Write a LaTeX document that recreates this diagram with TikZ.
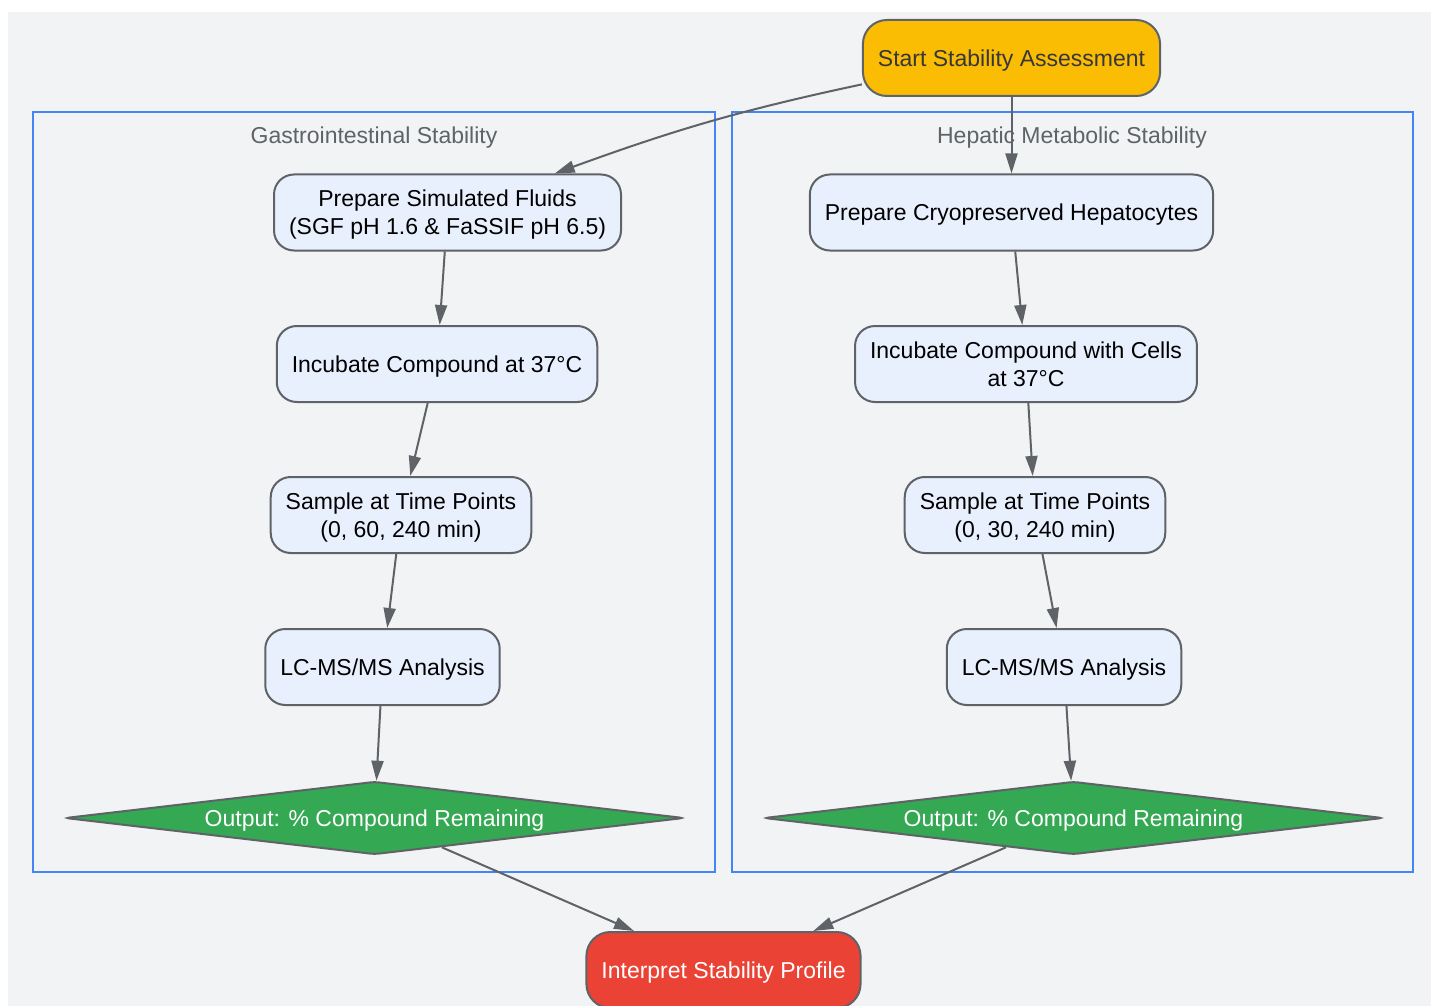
\documentclass[tikz,border=0pt]{standalone}
\usepackage{fontspec}
\setmainfont{Liberation Sans}
\usetikzlibrary{arrows.meta,positioning,shapes.geometric,calc}
\definecolor{canvas}{HTML}{F1F3F4}
\definecolor{ink}{HTML}{202124}
\definecolor{inkgray}{HTML}{5F6368}
\definecolor{boxfill}{HTML}{E8F0FE}
\definecolor{gblue}{HTML}{4285F4}
\definecolor{gyellow}{HTML}{FBBC04}
\definecolor{ggreen}{HTML}{34A853}
\definecolor{gred}{HTML}{EA4335}
\newcommand{\stepfont}{\fontsize{11.5}{14}\selectfont}
\tikzset{
  flowtext/.style={font=\stepfont,text height=11pt,text depth=2.6pt},
  twoline/.style={text height=25pt},
  stepbox/.style={draw=inkgray,fill=boxfill,line width=1pt,rounded corners=10pt,
                  minimum height=38pt,inner xsep=7.5pt,inner ysep=2pt,
                  align=center,text=black,flowtext},
  startbox/.style={stepbox,fill=gyellow,text=ink!90,rounded corners=12pt},
  endbox/.style={stepbox,fill=gred,text=white,rounded corners=12pt},
  outdiamond/.style={diamond,draw=inkgray,fill=ggreen,line width=1pt,aspect=8.5,
                     inner sep=0pt,minimum width=309.5pt,minimum height=36.5pt,
                     rounded corners=2pt,text=white,flowtext},
  cluster/.style={draw=gblue,line width=1pt,inner sep=0pt},
  clusterlabel/.style={text=inkgray,flowtext,inner sep=0pt},
  flowarr/.style={-{Triangle[length=10pt,width=6pt]},line width=1pt,color=inkgray}
}

\begin{document}
\begin{tikzpicture}[x=0.5pt,y=-0.5pt]
  \useasboundingbox (0,0) rectangle (1431,1006);
  \fill[canvas] (8,12) rectangle (1431,1006);

  % subgraphs
  \node[cluster,minimum width=341pt,minimum height=380pt] (gi) at (374,492) {};
  \node[cluster,minimum width=340.5pt,minimum height=380pt] (hep) at (1072.5,492) {};
  \node[clusterlabel] (gilabel) at (374,135) {Gastrointestinal Stability};
  \node[clusterlabel] (heplabel) at (1072,135) {Hepatic Metabolic Stability};

  % nodes
  \node[startbox] (start) at (1011.5,58) {Start Stability Assessment};

  \node[stepbox,twoline] (g1) at (447.5,212.5) {Prepare Simulated Fluids\\(SGF pH 1.6 \& FaSSIF pH 6.5)};
  \node[stepbox] (g2) at (437,364) {Incubate Compound at 37°C};
  \node[stepbox,twoline] (g3) at (401,515) {Sample at Time Points\\(0, 60, 240 min)};
  \node[stepbox] (g4) at (382.5,667) {LC-MS/MS Analysis};
  \node[outdiamond] (g5) at (374.5,818) {Output: \% Compound Remaining};

  \node[stepbox] (h1) at (1011.5,212.5) {Prepare Cryopreserved Hepatocytes};
  \node[stepbox,twoline] (h2) at (1026,364) {Incubate Compound with Cells\\at 37°C};
  \node[stepbox,twoline] (h3) at (1035,515) {Sample at Time Points\\(0, 30, 240 min)};
  \node[stepbox] (h4) at (1064,667) {LC-MS/MS Analysis};
  \node[outdiamond] (h5) at (1073.5,818) {Output: \% Compound Remaining};

  \node[endbox] (interp) at (723.5,970) {Interpret Stability Profile};

  % edges
  \draw[flowarr] (start.-170) to[out=192,in=20] (g1.20);
  \draw[flowarr] (start) -- (h1);
  \draw[flowarr] (g1) -- (g2);
  \draw[flowarr] (g2) -- (g3);
  \draw[flowarr] (g3) -- (g4);
  \draw[flowarr] (g4) -- (g5);
  \draw[flowarr] (h1) -- (h2);
  \draw[flowarr] (h2) -- (h3);
  \draw[flowarr] (h3) -- (h4);
  \draw[flowarr] (h4) -- (h5);
  \draw[flowarr] (g5) -- (interp);
  \draw[flowarr] (h5) -- (interp);
\end{tikzpicture}
\end{document}
